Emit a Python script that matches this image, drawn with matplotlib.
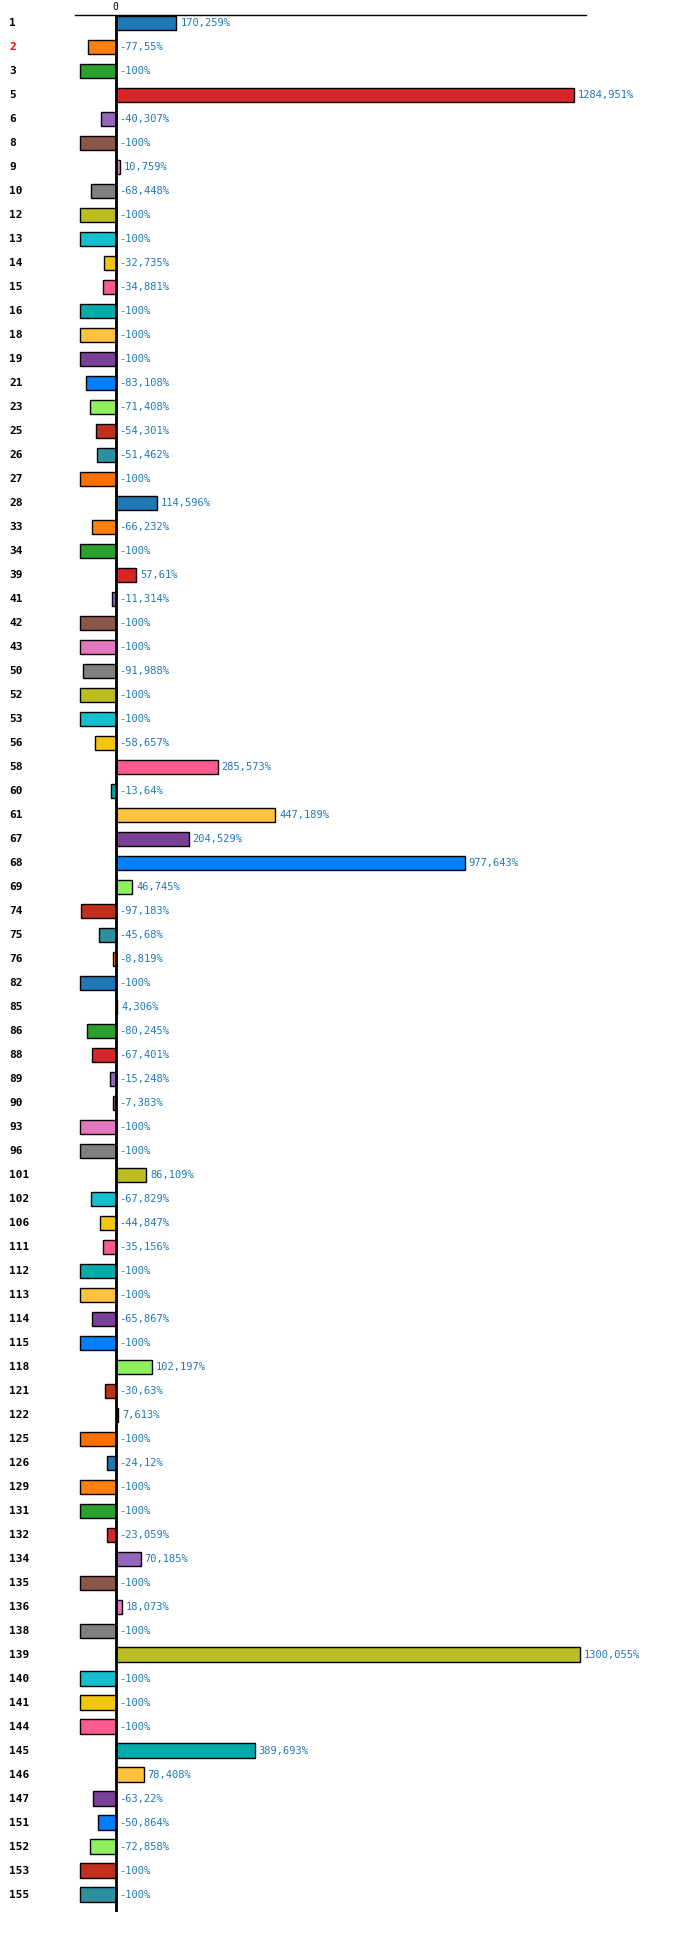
import matplotlib
matplotlib.use("Agg")
import matplotlib.pyplot as plt
import matplotlib.transforms as mtransforms

categories = ["1", "2", "3", "5", "6", "8", "9", "10", "12", "13",
              "14", "15", "16", "18", "19", "21", "23", "25", "26", "27",
              "28", "33", "34", "39", "41", "42", "43", "50", "52", "53",
              "56", "58", "60", "61", "67", "68", "69", "74", "75", "76",
              "82", "85", "86", "88", "89", "90", "93", "96", "101", "102",
              "106", "111", "112", "113", "114", "115", "118", "121", "122", "125",
              "126", "129", "131", "132", "134", "135", "136", "138", "139", "140",
              "141", "144", "145", "146", "147", "151", "152", "153", "155"]

values = [170.259, -77.55, -100, 1284.951, -40.307, -100, 10.759, -68.448, -100, -100,
          -32.735, -34.881, -100, -100, -100, -83.108, -71.408, -54.301, -51.462, -100,
          114.596, -66.232, -100, 57.61, -11.314, -100, -100, -91.988, -100, -100,
          -58.657, 285.573, -13.64, 447.189, 204.529, 977.643, 46.745, -97.183, -45.68, -8.819,
          -100, 4.306, -80.245, -67.401, -15.248, -7.383, -100, -100, 86.109, -67.829,
          -44.847, -35.156, -100, -100, -65.867, -100, 102.197, -30.63, 7.613, -100,
          -24.12, -100, -100, -23.059, 70.185, -100, 18.073, -100, 1300.055, -100,
          -100, -100, 389.693, 78.408, -63.22, -50.864, -72.858, -100, -100]

palette = ["#1f77b4", "#ff7f0e", "#2ca02c", "#d62728", "#9467bd",
           "#8c564b", "#e377c2", "#7f7f7f", "#bcbd22", "#17becf",
           "#f2c511", "#ff5b8f", "#00aba9", "#ffc13f", "#7b3f98",
           "#0080ff", "#8fef5f", "#c0301c", "#2e8fa0", "#ff7000"]

highlight = "2"

def fmt(v):
    s = f"{v:.3f}".rstrip("0").rstrip(".")
    return s.replace(".", ",") + "%"

fig = plt.figure(figsize=(7, 19.41), dpi=100)
ax = fig.add_axes([75 / 700, 1 - 1912 / 1941, 511 / 700, 1897 / 1941])

ypos = list(range(len(categories)))
colors = [palette[i % len(palette)] for i in ypos]
ax.barh(ypos, values, height=0.61, color=colors, edgecolor="black", linewidth=1)

ax.set_xlim(-114, 1318)
ax.set_ylim(len(categories) - 1 + 0.717, -0.333)

for side in ["left", "right", "bottom"]:
    ax.spines[side].set_visible(False)
ax.spines["top"].set_linewidth(1)
ax.axvline(0, color="black", linewidth=2)

ax.xaxis.tick_top()
ax.set_xticks([0])
ax.set_xticklabels(["0"], fontsize=7, family="DejaVu Sans Mono")
ax.tick_params(axis="x", length=0, pad=2)
ax.set_yticks([])

px = mtransforms.ScaledTranslation(4 / 100, 0, fig.dpi_scale_trans)
for y, v in zip(ypos, values):
    x = max(v, 0)
    ax.text(x, y, fmt(v), transform=ax.transData + px, ha="left", va="center",
            fontsize=7.5, family="DejaVu Sans Mono", color="#1f77b4")

trans = mtransforms.blended_transform_factory(fig.transFigure, ax.transData)
for y, c in zip(ypos, categories):
    ax.text(9 / 700, y, c, transform=trans, ha="left", va="center",
            fontsize=8, fontweight="bold", family="DejaVu Sans Mono",
            color="red" if c == highlight else "black")

fig.savefig("out.png", dpi=100)
